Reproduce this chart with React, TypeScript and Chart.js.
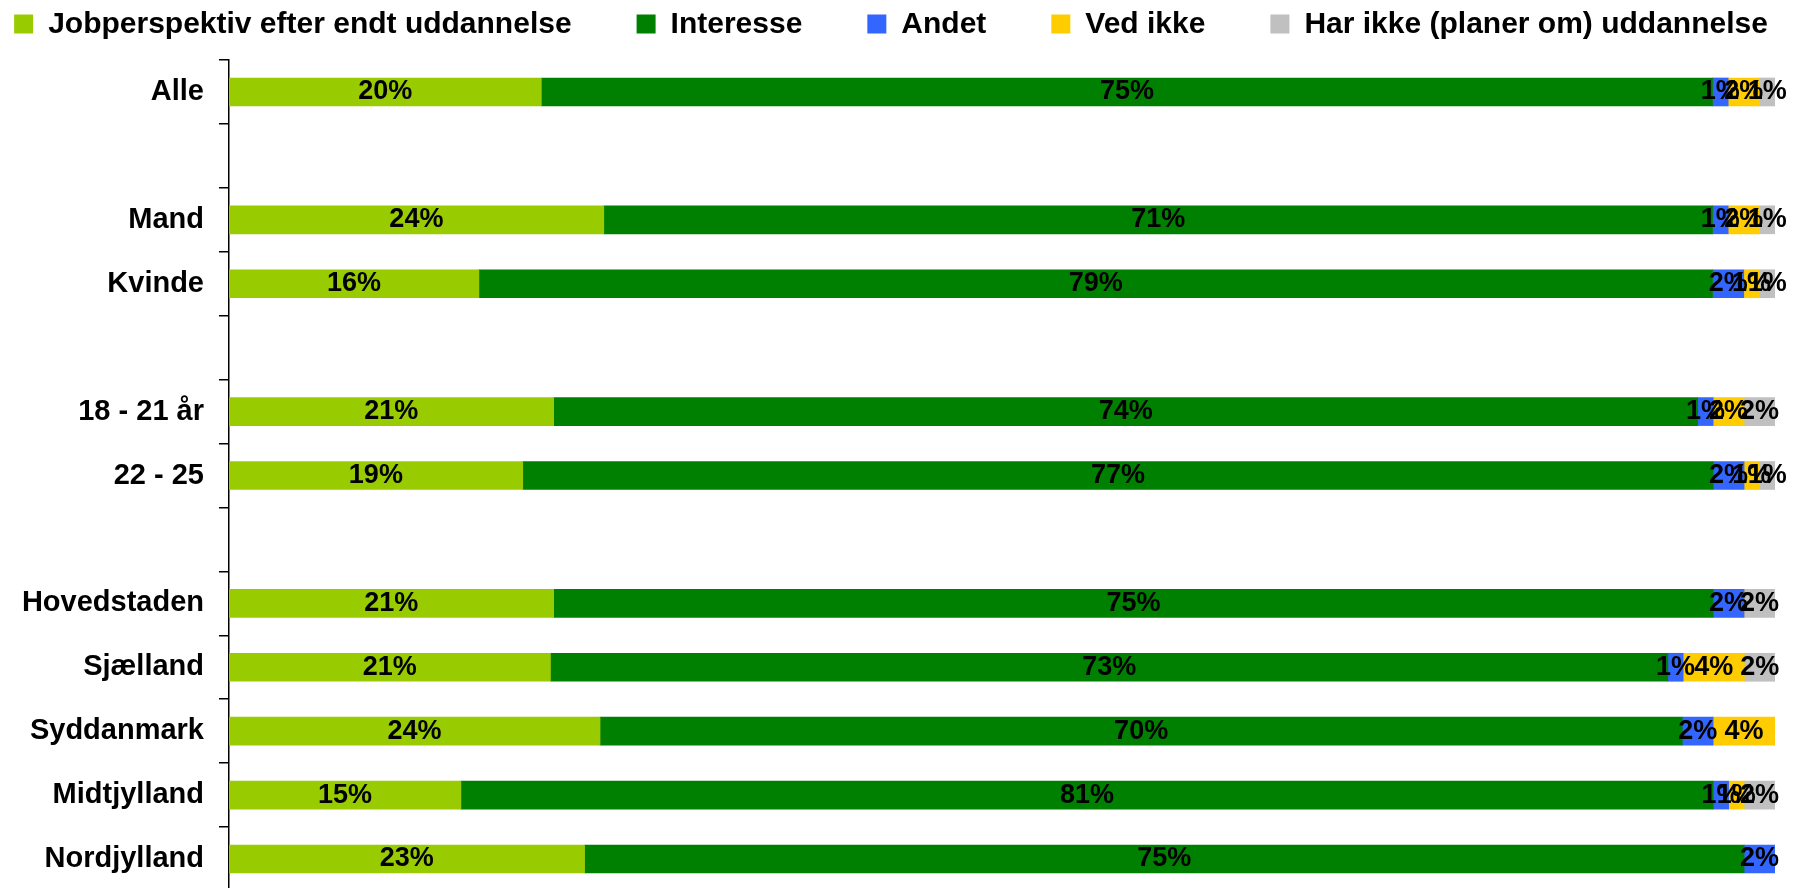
import React, { useEffect, useRef } from "react";
import { Chart, registerables } from "chart.js";

Chart.register(...registerables);

const categories = [
  "Alle",
  "",
  "Mand",
  "Kvinde",
  "",
  "18 - 21 år",
  "22 - 25",
  "",
  "Hovedstaden",
  "Sjælland",
  "Syddanmark",
  "Midtjylland",
  "Nordjylland",
];

const seriesNames = [
  "Jobperspektiv efter endt uddannelse",
  "Interesse",
  "Andet",
  "Ved ikke",
  "Har ikke (planer om) uddannelse",
];

const jobperspektiv = [20, null, 24, 16, null, 21, 19, null, 21, 21, 24, 15, 23];
const interesse = [75, null, 71, 79, null, 74, 77, null, 75, 73, 70, 81, 75];
const andet = [1, null, 1, 2, null, 1, 2, null, 2, 1, 2, 1, 2];
const vedIkke = [2, null, 2, 1, null, 2, 1, null, 0, 4, 4, 1, 0];
const harIkke = [1, null, 1, 1, null, 2, 1, null, 2, 2, 0, 2, 0];

const seriesColors = ["#99CC00", "#008000", "#3366FF", "#FFCC00", "#C0C0C0"];

const rawSeries: (number | null)[][] = [jobperspektiv, interesse, andet, vedIkke, harIkke];

const FONT = '"Liberation Sans", Arial, Helvetica, sans-serif';

export default function App() {
  const canvasRef = useRef<HTMLCanvasElement | null>(null);

  useEffect(() => {
    if (!canvasRef.current) return;

    // 100% stacked: each row normalised by its own total
    const rowTotals = categories.map((_, i) =>
      rawSeries.reduce((s, arr) => s + (arr[i] ?? 0), 0)
    );

    const datasets = rawSeries.map((arr, di) => ({
      label: seriesNames[di],
      data: arr.map((v, i) => (v == null || rowTotals[i] === 0 ? null : (v / rowTotals[i]) * 100)),
      backgroundColor: seriesColors[di],
      borderWidth: 0,
      barThickness: 28,
    }));

    const labelPlugin = {
      id: "segmentLabels",
      afterDatasetsDraw(chart: any) {
        const ctx = chart.ctx;
        ctx.save();
        ctx.font = `bold 27px ${FONT}`;
        ctx.fillStyle = "#000";
        ctx.textAlign = "center";
        ctx.textBaseline = "middle";
        chart.data.datasets.forEach((_ds: any, di: number) => {
          const meta = chart.getDatasetMeta(di);
          const raw = rawSeries[di];
          meta.data.forEach((el: any, i: number) => {
            const v = raw[i];
            if (v == null || v === 0) return;
            const p = el.getProps(["x", "base", "y"], true);
            ctx.fillText(`${v}%`, (p.x + p.base) / 2, p.y);
          });
        });
        ctx.restore();
      },
    };

    // single-row legend with wide spacing between items
    const legendPlugin = {
      id: "wideLegend",
      afterDraw(chart: any) {
        const ctx = chart.ctx;
        const box = 19;
        const textGap = 15;
        const itemGap = 65;
        const centerX = 891;
        const centerY = 24;
        ctx.save();
        ctx.font = `bold 30px ${FONT}`;
        ctx.textBaseline = "middle";
        ctx.textAlign = "left";
        const items = chart.data.datasets.map((ds: any) => ({
          text: ds.label as string,
          color: ds.backgroundColor as string,
          w: ctx.measureText(ds.label).width,
        }));
        const total =
          items.reduce((s: number, it: any) => s + box + textGap + it.w, 0) +
          itemGap * (items.length - 1);
        let x = centerX - total / 2;
        items.forEach((it: any) => {
          ctx.fillStyle = it.color;
          ctx.fillRect(x, centerY - box / 2, box, box);
          ctx.fillStyle = "#000";
          ctx.fillText(it.text, x + box + textGap, centerY + 1);
          x += box + textGap + it.w + itemGap;
        });
        ctx.restore();
      },
    };

    const chart = new Chart(canvasRef.current, {
      type: "bar",
      data: { labels: categories, datasets },
      options: {
        indexAxis: "y",
        responsive: true,
        maintainAspectRatio: false,
        animation: false,
        layout: { padding: { left: 8, right: 19, top: 60, bottom: 40 } },
        plugins: {
          legend: { display: false },
          tooltip: { enabled: false },
        },
        scales: {
          x: {
            stacked: true,
            min: 0,
            max: 100,
            display: false,
          },
          y: {
            stacked: true,
            afterFit: (scale: any) => {
              scale.width = 221;
            },
            ticks: {
              color: "#000",
              padding: 15,
              autoSkip: false,
              font: { family: FONT, size: 29, weight: "bold" },
            },
            grid: {
              display: true,
              offset: true,
              drawOnChartArea: false,
              drawTicks: true,
              tickLength: 10,
              color: "#000",
              lineWidth: 1.5,
            },
            border: { display: true, color: "#000", width: 1.5 },
          },
        },
      },
      plugins: [labelPlugin, legendPlugin],
    } as any);

    return () => chart.destroy();
  }, []);

  return (
    <div
      style={{
        position: "fixed",
        left: 0,
        top: 0,
        width: 1794,
        height: 888,
        overflow: "hidden",
        background: "#fff",
      }}
    >
      <div style={{ position: "absolute", left: 0, top: 0, width: 1794, height: 931 }}>
        <canvas ref={canvasRef} />
      </div>
    </div>
  );
}
